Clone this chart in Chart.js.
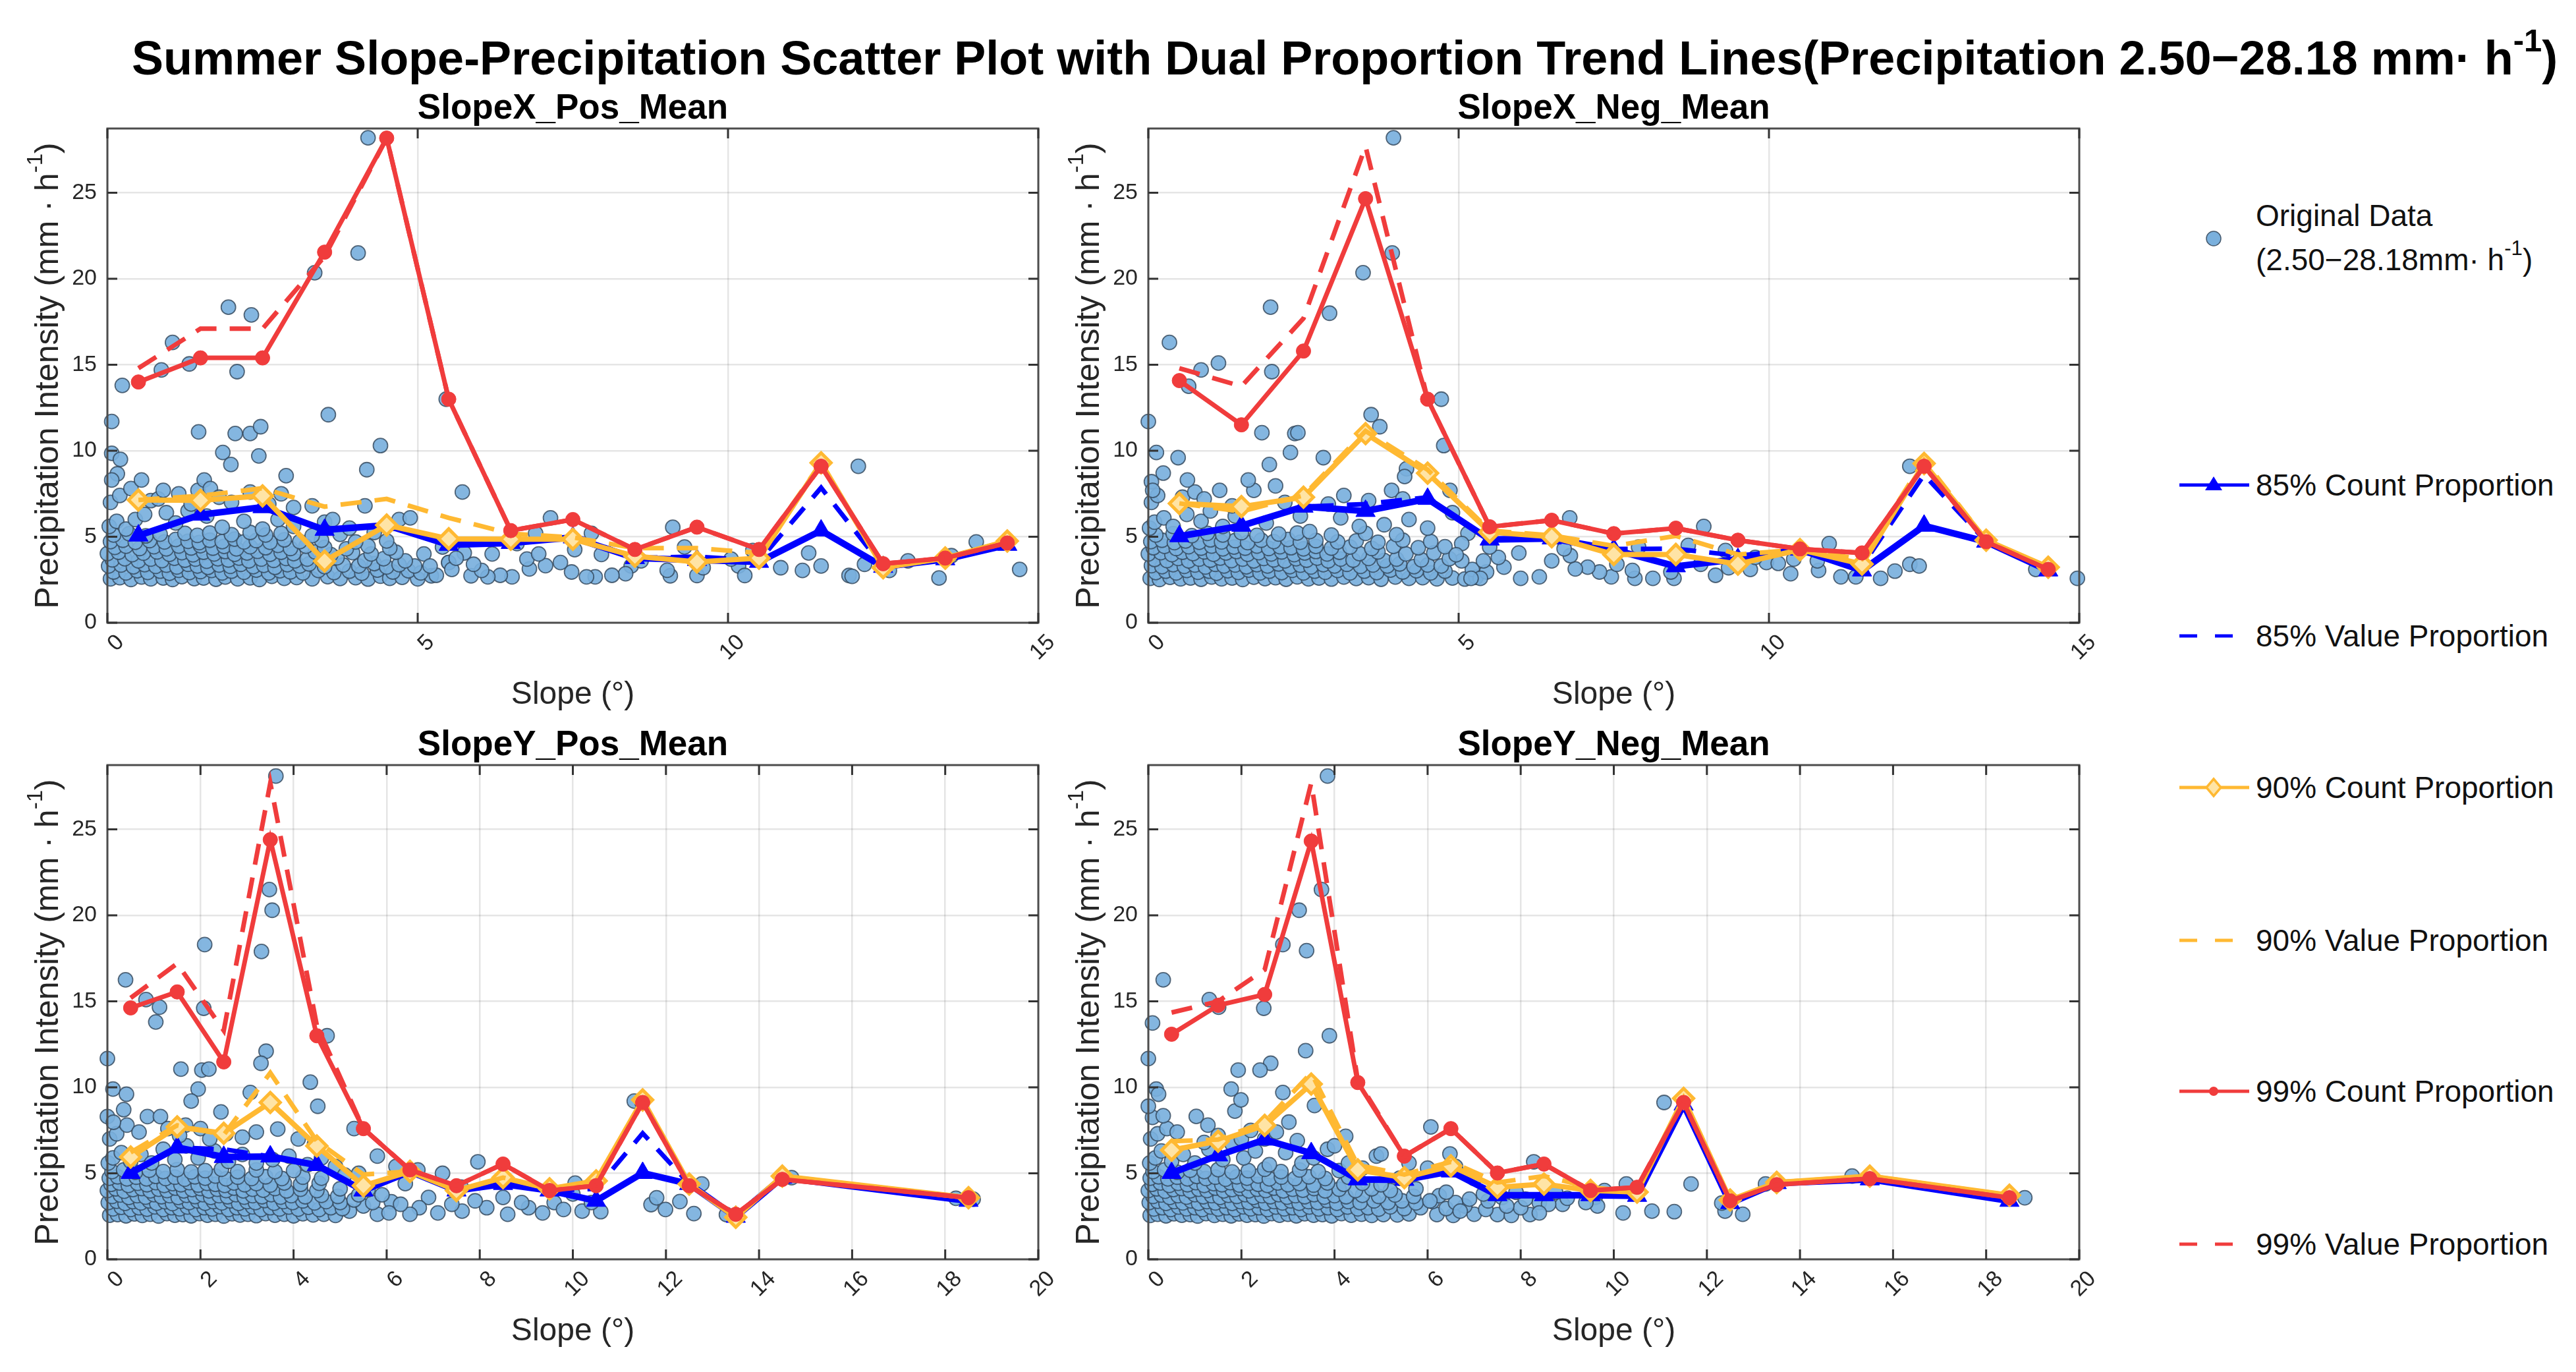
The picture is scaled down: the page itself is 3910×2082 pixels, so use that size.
<!DOCTYPE html>
<html>
<head>
<meta charset="utf-8">
<script src="https://cdn.jsdelivr.net/npm/chart.js@4.4.1/dist/chart.umd.min.js"></script>
<style>
  html, body { margin: 0; padding: 0; background: #fff; }
  body { width: 3910px; height: 2082px; position: relative; overflow: hidden; font-family: "Liberation Sans", Arial, sans-serif; color: #000; }
  canvas { position: absolute; }
  #title { position: absolute; left: 200px; top: 52px; font-size: 72px; line-height: 72px; font-weight: bold; white-space: nowrap; }
  sup { font-size: 0.68em; position: relative; top: -0.2em; vertical-align: super; line-height: 0; }
  .lg-sym { position: absolute; left: 3300px; width: 130px; height: 60px; }
  .lg-txt { position: absolute; left: 3424px; font-size: 46px; line-height: 60px; white-space: nowrap; color: #111; }
</style>
</head>
<body>
<div id="title">Summer Slope-Precipitation Scatter Plot with Dual Proportion Trend Lines(Precipitation 2.50−28.18 mm· h<sup>-1</sup>)</div>

<canvas id="p1"></canvas>
<canvas id="p2"></canvas>
<canvas id="p3"></canvas>
<canvas id="p4"></canvas>

<div id="legend"></div>

<script>
// ---- data ----
const panelTitles = ['SlopeX_Pos_Mean', 'SlopeX_Neg_Mean', 'SlopeY_Pos_Mean', 'SlopeY_Neg_Mean'];
const yMax = 28.74;

// bin centres
const binsX = [0.5, 1.5, 2.5, 3.5, 4.5, 5.5, 6.5, 7.5, 8.5, 9.5, 10.5, 11.5, 12.5, 13.5, 14.5];
const binsYPos = [0.5, 1.5, 2.5, 3.5, 4.5, 5.5, 6.5, 7.5, 8.5, 9.5, 10.5, 11.5, 12.5, 13.5, 14.5, 18.5];
const binsYNeg = [0.5, 1.5, 2.5, 3.5, 4.5, 5.5, 6.5, 7.5, 8.5, 9.5, 10.5, 11.5, 12.5, 13.5, 15.5, 18.5];

// SlopeX_Pos_Mean
const xPosCount85 = [5.07, 6.28, 6.72, 5.4, 5.67, 4.53, 4.64, 4.96, 3.76, 3.65, 3.54, 5.36, 3.25, 3.69, 4.53];
const xPosValue85 = [5.07, 6.28, 6.72, 5.4, 5.67, 4.53, 4.64, 5.1, 3.76, 3.85, 3.6, 7.85, 3.25, 3.69, 4.53];
const xPosCount90 = [7.14, 7.12, 7.38, 3.58, 5.68, 4.88, 4.86, 4.86, 3.87, 3.54, 3.76, 9.3, 3.2, 3.76, 4.75];
const xPosValue90 = [7.14, 7.38, 7.82, 6.75, 7.2, 6.1, 5.18, 4.96, 4.34, 4.34, 4.06, 9.3, 3.2, 3.76, 4.75];
const xPosCount99 = [14.0, 15.4, 15.4, 21.55, 28.18, 13.0, 5.36, 6.0, 4.26, 5.56, 4.26, 9.1, 3.43, 3.76, 4.64];
const xPosValue99 = [14.8, 17.1, 17.1, 21.3, 28.18, 13.0, 5.36, 6.0, 4.26, 5.56, 4.26, 9.1, 3.43, 3.76, 4.64];

// SlopeX_Neg_Mean
const xNegCount85 = [5.03, 5.64, 6.75, 6.5, 7.2, 4.84, 4.9, 4.25, 3.28, 3.7, 4.25, 3.04, 5.64, 4.71, 3.04];
const xNegValue85 = [5.03, 5.64, 6.75, 6.9, 7.3, 4.84, 4.9, 4.29, 4.3, 3.9, 4.25, 3.3, 8.6, 4.71, 3.04];
const xNegCount90 = [6.94, 6.75, 7.3, 11.0, 8.7, 5.27, 5.0, 3.97, 3.97, 3.41, 4.25, 3.41, 9.26, 4.8, 3.23];
const xNegValue90 = [6.94, 6.47, 7.4, 11.15, 8.9, 5.36, 5.08, 4.47, 5.05, 3.97, 4.25, 3.7, 9.44, 4.8, 3.23];
const xNegCount99 = [14.08, 11.51, 15.8, 24.66, 13.0, 5.58, 5.96, 5.18, 5.5, 4.8, 4.29, 4.06, 9.1, 4.71, 3.1];
const xNegValue99 = [14.8, 13.75, 17.7, 27.7, 13.0, 5.58, 5.96, 5.18, 5.5, 4.8, 4.29, 4.06, 9.1, 4.71, 3.1];

// SlopeY_Pos_Mean
const yPosCount85 = [5.02, 6.5, 5.95, 5.98, 5.48, 4.0, 5.11, 4.0, 4.38, 4.0, 3.4, 5.02, 4.38, 2.47, 4.75, 3.4];
const yPosValue85 = [5.02, 6.5, 6.4, 5.98, 5.48, 4.0, 5.11, 4.0, 4.38, 4.0, 4.1, 7.33, 4.38, 2.47, 4.75, 3.4];
const yPosCount90 = [5.95, 7.7, 7.33, 9.12, 6.59, 4.28, 5.11, 4.0, 4.75, 4.1, 4.56, 9.27, 4.38, 2.44, 4.84, 3.58];
const yPosValue90 = [6.22, 7.79, 7.24, 10.84, 6.87, 4.93, 5.11, 4.0, 4.75, 4.1, 4.56, 9.27, 4.38, 2.44, 4.84, 3.58];
const yPosCount99 = [14.62, 15.55, 11.48, 24.4, 13.0, 7.6, 5.2, 4.28, 5.54, 4.0, 4.28, 9.12, 4.28, 2.62, 4.65, 3.58];
const yPosValue99 = [15.2, 17.2, 13.3, 27.7, 13.6, 7.6, 5.2, 4.28, 5.54, 4.0, 4.28, 9.12, 4.28, 2.62, 4.65, 3.58];

// SlopeY_Neg_Mean
const yNegCount85 = [5.02, 6.04, 6.96, 6.17, 4.65, 4.62, 5.11, 3.73, 3.73, 3.73, 3.69, 9.0, 3.27, 4.43, 4.65, 3.4];
const yNegValue85 = [5.02, 6.04, 7.0, 6.17, 4.65, 4.62, 5.11, 3.73, 3.73, 3.73, 3.69, 9.0, 3.27, 4.43, 4.65, 3.4];
const yNegCount90 = [6.35, 6.87, 7.79, 10.19, 5.2, 4.75, 5.43, 4.19, 4.38, 4.0, 3.91, 9.36, 3.45, 4.47, 4.84, 3.73];
const yNegValue90 = [6.87, 6.96, 7.98, 10.84, 5.48, 4.93, 5.67, 4.47, 4.84, 4.19, 3.91, 9.36, 3.45, 4.47, 4.84, 3.73];
const yNegCount99 = [13.09, 14.77, 15.4, 24.32, 10.28, 6.0, 7.6, 5.02, 5.54, 4.0, 4.19, 9.12, 3.4, 4.34, 4.69, 3.58];
const yNegValue99 = [14.35, 15.0, 16.84, 27.7, 10.4, 6.0, 7.6, 5.02, 5.54, 4.0, 4.19, 9.12, 3.4, 4.34, 4.69, 3.58];

// original data points [slope, precipitation]
const xPosPoints = [
  [0.05,2.55],[0.2,2.62],[0.38,2.52],[0.55,2.66],[0.7,2.55],[0.9,2.6],[1.05,2.52],[1.2,2.68],[1.4,2.56],[1.55,2.6],[1.75,2.53],[1.9,2.66],[2.1,2.55],[2.3,2.61],[2.45,2.52],[2.65,2.7],[2.85,2.58],[3.05,2.63],[3.3,2.55],[3.55,2.68],[3.75,2.57],[4.0,2.62],[4.2,2.54],[4.4,2.71],[4.55,2.58],[4.75,2.64],[5.0,2.55],[5.22,2.73],
  [0.1,2.95],[0.3,2.9],[0.48,3.02],[0.65,2.93],[0.85,3.0],[1.0,2.88],[1.15,3.05],[1.32,2.92],[1.5,2.98],[1.68,3.04],[1.85,2.9],[2.0,3.0],[2.2,2.94],[2.4,3.06],[2.6,2.9],[2.78,3.02],[2.95,2.96],[3.15,2.9],[3.4,3.04],[3.65,2.92],[3.9,3.0],[4.1,2.88],[4.35,3.06],[4.6,2.95],[4.85,3.02],[5.05,2.9],
  [0.02,3.3],[0.22,3.36],[0.42,3.25],[0.6,3.38],[0.78,3.28],[0.95,3.35],[1.12,3.24],[1.3,3.4],[1.45,3.3],[1.62,3.22],[1.8,3.36],[1.98,3.28],[2.15,3.4],[2.35,3.26],[2.52,3.34],[2.7,3.22],[2.9,3.38],[3.1,3.3],[3.25,3.42],[3.5,3.26],[3.8,3.36],[4.05,3.3],[4.3,3.44],[4.5,3.24],[4.7,3.38],[4.95,3.3],[5.5,3.5],
  [0.08,3.66],[0.28,3.72],[0.5,3.6],[0.7,3.7],[0.88,3.62],[1.08,3.75],[1.25,3.64],[1.42,3.7],[1.6,3.58],[1.78,3.72],[1.95,3.65],[2.12,3.76],[2.28,3.6],[2.48,3.7],[2.68,3.63],[2.88,3.74],[3.02,3.6],[3.22,3.7],[3.45,3.65],[3.7,3.78],[4.15,3.62],[4.45,3.72],[4.8,3.6],
  [0.0,4.02],[0.18,4.1],[0.4,3.96],[0.58,4.05],[0.8,4.12],[1.0,3.98],[1.2,4.08],[1.38,3.95],[1.55,4.1],[1.72,4.0],[1.9,4.14],[2.05,3.98],[2.25,4.06],[2.42,4.15],[2.62,3.98],[2.8,4.1],[3.0,4.02],[3.35,4.12],[3.6,3.96],[3.95,4.08],[4.25,4.0],[4.65,4.1],[5.1,4.0],
  [0.12,4.38],[0.3,4.45],[0.52,4.32],[0.75,4.42],[0.95,4.3],[1.15,4.46],[1.35,4.35],[1.5,4.48],[1.7,4.34],[1.88,4.44],[2.08,4.3],[2.3,4.42],[2.55,4.36],[2.75,4.5],[2.95,4.32],[3.2,4.45],[3.5,4.38],[3.85,4.3],[4.2,4.46],[4.55,4.34],
  [0.05,4.72],[0.25,4.8],[0.45,4.68],[0.68,4.78],[0.92,4.7],[1.1,4.84],[1.3,4.74],[1.48,4.66],[1.65,4.8],[1.85,4.72],[2.05,4.86],[2.2,4.7],[2.4,4.78],[2.62,4.68],[2.85,4.82],[3.1,4.72],[3.45,4.8],[4.0,4.7],[4.5,4.76],
  [0.1,5.1],[0.35,5.18],[0.62,5.05],[0.85,5.15],[1.25,5.2],[1.45,5.08],[1.65,5.22],[2.0,5.12],[2.3,5.25],[2.55,5.1],[2.8,5.2],[3.3,5.06],[3.75,5.14],
  [0.03,5.6],[0.15,5.9],[0.3,5.45],[0.45,6.0],[0.6,6.3],[0.95,6.4],[1.1,5.8],[1.3,6.5],[1.6,6.2],[1.85,5.55],[2.2,5.9],[2.5,5.45],[2.75,6.0],[3.0,5.6],[3.5,5.85],[3.9,5.5],[4.3,5.25],[4.7,6.0],[4.88,6.1],
  [0.05,7.0],[0.2,7.4],[0.38,7.8],[0.55,8.3],[0.7,7.1],[0.82,7.2],[0.9,7.7],[1.15,7.5],[1.35,6.9],[1.46,7.7],[1.56,8.3],[1.66,7.8],[1.8,7.3],[2.0,7.0],[2.3,7.6],[2.6,6.9],[2.8,7.5],[3.0,6.7],[3.3,6.8],[3.63,6.0],[4.15,6.8],[5.72,7.6],
  [4.2,28.2],[4.04,21.5],[3.34,20.35],[1.95,18.35],[2.32,17.9],[1.05,16.3],[1.32,15.05],[0.87,14.7],[2.09,14.6],[0.24,13.8],[5.46,13.0],[3.56,12.1],[0.07,11.7],[1.47,11.1],[2.06,11.0],[2.3,11.0],[2.47,11.4],[4.4,10.3],[1.86,9.9],[0.07,9.85],[0.21,9.5],[2.44,9.7],[1.99,9.2],[4.18,8.9],[12.1,9.1],[2.88,8.55],[0.16,8.66],[0.07,8.3],
  [7.14,6.1],[9.11,5.55],[7.8,5.2],[6.9,5.2],[14.0,4.7],[14.7,3.1],[13.4,2.6],[11.3,4.06],[11.2,3.04],[11.95,2.75],[12.0,2.7],[12.2,3.4],[12.6,3.04],[10.85,3.2],[10.17,3.3],[10.27,2.75],[10.05,3.7],[9.07,2.73],[9.02,3.05],[9.5,2.75],[9.6,3.2],[8.44,3.3],[8.35,2.85],[8.13,2.76],[7.86,2.67],[7.72,2.67],[7.96,3.97],[7.48,2.95],[7.53,4.25],[7.06,3.32],[6.8,3.13],[6.76,3.7],[6.52,2.67],[6.33,2.76],[6.13,2.67],[5.86,2.73],[6.03,3.04],[5.75,4.06],[5.5,3.5],[5.55,3.1],[5.3,2.76],[5.2,3.3],[5.4,4.4],[5.62,3.75],[5.9,3.4],[6.2,4.0],[6.6,4.6],[6.95,4.0],[7.3,3.5],[8.6,3.6],[9.3,4.4],[10.4,4.2],[11.5,3.3],[12.9,3.6],[13.6,3.9]
];

const xNegPoints = [
  [0.03,2.58],[0.18,2.52],[0.35,2.64],[0.52,2.55],[0.68,2.6],[0.85,2.53],[1.02,2.66],[1.18,2.55],[1.35,2.6],[1.52,2.52],[1.7,2.65],[1.88,2.56],[2.05,2.62],[2.22,2.53],[2.4,2.67],[2.58,2.55],[2.75,2.6],[2.95,2.54],[3.15,2.66],[3.35,2.57],[3.55,2.62],[3.75,2.53],[3.98,2.66],[4.2,2.58],[4.42,2.62],[4.65,2.55],[4.9,2.6],[5.1,2.54],[5.28,2.64],
  [0.12,2.92],[0.28,3.0],[0.45,2.9],[0.62,3.04],[0.8,2.94],[0.98,3.0],[1.1,2.88],[1.28,3.02],[1.45,2.93],[1.62,3.06],[1.8,2.9],[1.95,3.0],[2.15,2.92],[2.32,3.05],[2.5,2.9],[2.68,3.0],[2.85,2.94],[3.05,3.04],[3.25,2.9],[3.48,3.0],[3.68,2.92],[3.9,3.06],[4.1,2.95],[4.32,3.02],[4.55,2.9],[4.78,3.0],[5.22,3.1],[5.45,2.95],
  [0.05,3.32],[0.22,3.26],[0.4,3.38],[0.58,3.28],[0.75,3.36],[0.92,3.24],[1.08,3.4],[1.22,3.3],[1.4,3.36],[1.58,3.25],[1.75,3.38],[1.92,3.3],[2.1,3.42],[2.28,3.26],[2.45,3.35],[2.62,3.24],[2.82,3.38],[3.0,3.3],[3.2,3.4],[3.42,3.28],[3.62,3.36],[3.85,3.3],[4.05,3.42],[4.28,3.26],[4.5,3.36],[4.72,3.3],[5.05,3.6],
  [0.1,3.68],[0.3,3.62],[0.48,3.74],[0.65,3.6],[0.82,3.7],[1.0,3.64],[1.16,3.76],[1.34,3.62],[1.52,3.7],[1.7,3.6],[1.86,3.74],[2.02,3.66],[2.2,3.6],[2.38,3.72],[2.55,3.64],[2.72,3.76],[2.9,3.6],[3.1,3.7],[3.3,3.64],[3.55,3.74],[3.8,3.62],[4.0,3.7],[4.4,3.66],[4.85,3.72],
  [0.0,4.0],[0.2,4.08],[0.38,3.96],[0.55,4.1],[0.72,4.02],[0.9,4.12],[1.05,3.98],[1.25,4.06],[1.42,4.14],[1.6,3.98],[1.78,4.08],[1.98,4.0],[2.15,4.12],[2.35,3.96],[2.52,4.06],[2.7,4.14],[2.88,4.0],[3.08,4.1],[3.4,4.02],[3.7,4.12],[4.15,4.0],[4.6,4.06],
  [0.08,4.36],[0.26,4.44],[0.45,4.32],[0.65,4.42],[0.85,4.34],[1.02,4.46],[1.2,4.3],[1.38,4.4],[1.56,4.34],[1.75,4.46],[1.94,4.32],[2.12,4.42],[2.3,4.36],[2.5,4.3],[2.7,4.44],[2.95,4.34],[3.25,4.4],[3.6,4.32],[3.95,4.44],[4.35,4.36],[4.78,4.42],
  [0.04,4.72],[0.22,4.8],[0.42,4.66],[0.6,4.76],[0.82,4.68],[1.0,4.82],[1.18,4.7],[1.4,4.78],[1.6,4.66],[1.82,4.8],[2.02,4.72],[2.25,4.84],[2.45,4.68],[2.7,4.78],[3.05,4.7],[3.35,4.76],[3.7,4.68],[4.1,4.8],[4.55,4.72],
  [0.12,5.1],[0.4,5.18],[0.7,5.06],[0.95,5.2],[1.2,5.1],[1.5,5.24],[1.75,5.08],[2.1,5.16],[2.4,5.22],[2.95,5.1],[3.5,5.2],[4.0,5.12],
  [0.02,5.5],[0.1,5.85],[0.25,6.1],[0.4,5.6],[0.62,6.3],[0.85,5.9],[1.0,6.5],[1.2,5.6],[1.4,6.2],[1.9,5.8],[2.45,6.2],[2.6,5.3],[3.1,6.1],[3.4,5.6],[3.8,5.7],[4.2,6.0],[4.5,5.5],[4.9,6.4],[5.15,5.2],
  [0.05,7.0],[0.15,7.4],[0.55,7.3],[0.75,7.6],[0.9,7.2],[1.15,7.7],[1.7,7.7],[1.35,6.8],[2.2,7.0],[2.9,6.9],[3.15,7.4],[3.55,7.1],[4.86,7.7],[3.92,7.7],[2.05,7.96],[4.1,7.2],
  [3.95,28.2],[3.93,21.5],[3.46,20.35],[1.97,18.35],[2.92,18.0],[0.34,16.3],[1.13,15.1],[0.85,14.7],[1.99,14.6],[0.65,13.75],[4.72,13.0],[3.59,12.1],[0.0,11.7],[3.73,11.4],[1.83,11.05],[2.36,11.0],[2.41,11.05],[4.76,10.3],[2.29,9.9],[0.13,9.9],[0.48,9.6],[2.82,9.6],[1.95,9.2],[4.16,8.95],[4.13,8.5],[12.27,9.1],[0.24,8.7],[1.61,8.3],[0.05,8.2],[0.07,7.7],[0.63,8.3],
  [6.79,6.1],[8.95,5.6],[10.97,4.6],[12.27,3.4],[12.42,3.3],[14.3,3.1],[14.97,2.58],[11.8,2.58],[12.03,3.0],[11.16,2.67],[11.4,2.67],[10.8,3.04],[10.78,3.6],[10.35,2.85],[10.4,3.7],[9.96,3.5],[10.15,3.45],[9.7,3.1],[9.78,3.8],[9.14,2.76],[9.35,3.2],[8.9,3.4],[8.47,2.58],[8.42,2.95],[8.13,2.58],[7.84,2.58],[7.8,3.04],[7.46,2.67],[7.27,2.95],[7.08,3.23],[7.55,3.4],[6.88,3.13],[6.8,3.9],[6.7,4.3],[6.5,3.6],[6.3,2.67],[6.0,2.58],[5.97,4.06],[5.73,3.23],[5.64,3.8],[5.5,4.4],[5.4,3.6],[5.35,2.58],[5.2,2.58],[5.05,4.6],[4.96,3.95],[7.9,4.4],[8.7,4.5],[9.3,4.2]
];

const yPosPoints = [
  [0.05,2.56],[0.22,2.6],[0.4,2.53],[0.58,2.64],[0.75,2.55],[0.92,2.62],[1.1,2.52],[1.28,2.66],[1.45,2.56],[1.62,2.6],[1.8,2.53],[1.98,2.66],[2.15,2.56],[2.32,2.62],[2.5,2.52],[2.68,2.65],[2.85,2.57],[3.02,2.62],[3.2,2.54],[3.4,2.66],[3.6,2.56],[3.8,2.62],[4.0,2.53],[4.2,2.65],[4.42,2.58],[4.65,2.62],[4.9,2.55],[5.2,2.8],[5.8,2.62],
  [0.12,2.94],[0.3,3.02],[0.5,2.9],[0.68,3.0],[0.85,2.92],[1.02,3.05],[1.2,2.9],[1.38,3.0],[1.55,2.94],[1.72,3.04],[1.9,2.9],[2.08,3.0],[2.25,2.93],[2.42,3.06],[2.6,2.9],[2.78,3.0],[2.95,2.94],[3.12,3.05],[3.3,2.9],[3.5,3.0],[3.7,2.93],[3.9,3.04],[4.1,2.92],[4.32,3.02],[4.55,2.9],[4.8,3.0],[5.05,2.95],[5.5,3.1],
  [0.02,3.3],[0.2,3.38],[0.38,3.25],[0.55,3.36],[0.72,3.28],[0.9,3.4],[1.06,3.26],[1.24,3.35],[1.4,3.24],[1.58,3.38],[1.76,3.3],[1.94,3.4],[2.1,3.26],[2.28,3.36],[2.46,3.28],[2.64,3.4],[2.82,3.25],[3.0,3.36],[3.18,3.3],[3.38,3.42],[3.58,3.26],[3.78,3.36],[3.98,3.3],[4.2,3.4],[4.45,3.28],[4.7,3.36],[5.0,3.3],[5.3,3.45],[5.7,3.3],[6.1,3.35],
  [0.1,3.66],[0.28,3.74],[0.46,3.6],[0.64,3.7],[0.82,3.62],[1.0,3.76],[1.16,3.64],[1.34,3.7],[1.52,3.6],[1.7,3.72],[1.88,3.65],[2.05,3.76],[2.22,3.6],[2.4,3.7],[2.58,3.64],[2.76,3.76],[2.94,3.62],[3.12,3.7],[3.32,3.64],[3.52,3.76],[3.72,3.62],[3.95,3.7],[4.25,3.64],[4.6,3.72],[4.95,3.66],[5.4,3.75],
  [0.0,4.0],[0.18,4.1],[0.36,3.96],[0.55,4.06],[0.74,4.12],[0.92,3.98],[1.1,4.08],[1.28,4.0],[1.46,4.14],[1.64,3.98],[1.82,4.06],[2.0,4.12],[2.18,3.98],[2.36,4.08],[2.55,4.0],[2.72,4.14],[2.92,3.98],[3.12,4.08],[3.35,4.02],[3.6,4.12],[3.85,3.98],[4.15,4.08],[4.5,4.0],[5.0,4.1],[5.6,4.05],
  [0.08,4.36],[0.26,4.44],[0.45,4.3],[0.65,4.42],[0.85,4.34],[1.04,4.46],[1.22,4.3],[1.4,4.4],[1.58,4.34],[1.76,4.46],[1.95,4.32],[2.14,4.42],[2.32,4.36],[2.52,4.3],[2.72,4.44],[2.95,4.34],[3.2,4.4],[3.5,4.32],[3.8,4.44],[4.15,4.36],[4.55,4.42],
  [0.04,4.72],[0.22,4.8],[0.42,4.68],[0.62,4.78],[0.84,4.68],[1.04,4.82],[1.25,4.7],[1.45,4.78],[1.66,4.66],[1.88,4.8],[2.1,4.72],[2.32,4.84],[2.55,4.68],[2.8,4.78],[3.1,4.7],[3.4,4.8],[3.75,4.7],[4.2,4.78],[4.6,4.72],
  [0.1,5.1],[0.35,5.2],[0.6,5.06],[0.9,5.18],[1.2,5.1],[1.5,5.22],[1.8,5.08],[2.1,5.16],[2.45,5.24],[2.8,5.1],[3.2,5.2],[3.6,5.1],[4.0,5.16],
  [0.02,5.6],[0.12,5.9],[0.3,6.2],[0.5,5.7],[0.72,6.1],[0.95,5.6],[1.2,6.4],[1.45,5.8],[1.7,6.6],[1.95,5.9],[2.3,6.3],[2.6,5.7],[2.9,6.1],[3.2,5.6],[3.55,5.8],[3.9,6.0],[4.3,5.5],[4.6,5.9],[4.9,5.4],[5.1,4.9],[5.4,5.0],[5.8,6.0],[6.2,5.4],[6.67,5.2],[7.2,5.0],
  [0.05,7.0],[0.2,7.3],[0.42,7.8],[0.68,7.4],[0.86,8.3],[1.14,8.3],[1.3,7.6],[1.68,7.8],[1.55,7.2],[2.0,7.6],[2.2,7.0],[2.55,7.3],[2.9,7.1],[3.2,7.4],[3.66,7.57],[4.1,7.0],[4.45,6.7],[5.3,7.6],
  [3.62,28.1],[3.48,21.5],[3.54,20.3],[2.09,18.3],[3.31,17.9],[0.39,16.25],[0.83,15.1],[1.12,14.66],[2.07,14.6],[1.04,13.8],[4.72,13.0],[3.41,12.1],[0.0,11.67],[3.3,11.4],[1.58,11.06],[2.03,11.0],[2.18,11.06],[4.36,10.3],[1.95,9.9],[0.12,9.9],[0.41,9.6],[3.07,9.7],[1.8,9.2],[4.52,8.9],[11.32,9.2],[11.49,9.1],[0.35,8.7],[2.44,8.57],[0.0,8.3],[0.13,7.97],
  [7.96,5.67],[10.05,4.43],[12.77,4.38],[14.7,4.75],[18.23,3.55],[18.6,3.5],[11.68,3.18],[11.8,3.58],[11.99,2.9],[12.3,3.36],[12.6,2.66],[13.3,2.6],[10.6,2.77],[10.2,2.8],[10.4,3.3],[9.35,2.7],[9.05,3.0],[8.9,3.3],[8.6,2.62],[8.5,3.6],[8.15,3.0],[7.9,3.4],[7.62,2.8],[7.4,3.2],[7.1,2.7],[6.9,3.6],[6.7,3.0],[6.5,2.62],[6.3,3.2],[6.05,2.7],[5.9,3.75],[7.6,4.2],[9.6,3.3],[10.0,3.8],[9.8,2.9],[6.4,4.4]
];

const yNegPoints = [
  [0.04,2.55],[0.2,2.62],[0.38,2.53],[0.55,2.65],[0.72,2.56],[0.9,2.6],[1.06,2.52],[1.24,2.66],[1.42,2.55],[1.6,2.62],[1.78,2.53],[1.95,2.64],[2.12,2.56],[2.3,2.6],[2.48,2.52],[2.65,2.66],[2.82,2.56],[3.0,2.62],[3.18,2.53],[3.36,2.65],[3.55,2.56],[3.74,2.6],[3.94,2.53],[4.15,2.66],[4.36,2.56],[4.58,2.62],[4.8,2.55],[5.05,2.6],[5.35,2.58],[5.6,2.64],[6.2,2.6],[6.55,2.55],[7.0,2.62],[7.5,2.6],[7.8,2.55],[8.2,2.6],
  [0.12,2.93],[0.3,3.0],[0.48,2.9],[0.65,3.04],[0.82,2.94],[1.0,3.0],[1.16,2.9],[1.34,3.04],[1.5,2.93],[1.68,3.0],[1.86,2.9],[2.04,3.05],[2.2,2.94],[2.38,3.0],[2.56,2.9],[2.74,3.04],[2.92,2.94],[3.1,3.0],[3.28,2.9],[3.46,3.04],[3.66,2.93],[3.86,3.0],[4.06,2.9],[4.28,3.04],[4.5,2.94],[4.72,3.0],[4.95,2.92],[5.2,3.05],[5.5,2.95],[5.85,3.0],[6.4,2.95],[6.8,3.1],[7.25,2.9],[8.0,3.0],
  [0.02,3.3],[0.2,3.38],[0.38,3.25],[0.56,3.36],[0.74,3.28],[0.92,3.4],[1.08,3.26],[1.26,3.36],[1.44,3.28],[1.62,3.4],[1.8,3.25],[1.98,3.36],[2.16,3.3],[2.34,3.42],[2.52,3.26],[2.7,3.36],[2.88,3.28],[3.06,3.4],[3.24,3.26],[3.44,3.36],[3.64,3.3],[3.84,3.42],[4.05,3.26],[4.3,3.36],[4.55,3.3],[4.85,3.4],[5.15,3.3],[5.45,3.4],[5.75,3.28],[6.1,3.36],[6.6,3.3],[7.3,3.4],[8.4,3.3],[8.9,3.2],
  [0.1,3.66],[0.28,3.74],[0.46,3.6],[0.64,3.7],[0.82,3.62],[1.0,3.76],[1.18,3.64],[1.36,3.7],[1.54,3.6],[1.72,3.72],[1.9,3.66],[2.08,3.76],[2.26,3.6],[2.44,3.7],[2.62,3.64],[2.8,3.76],[2.98,3.62],[3.16,3.7],[3.36,3.64],[3.56,3.76],[3.78,3.62],[4.0,3.7],[4.25,3.64],[4.6,3.72],[4.95,3.66],[5.3,3.74],[5.7,3.66],[6.25,3.7],[7.6,3.6],
  [0.0,4.0],[0.18,4.1],[0.36,3.96],[0.54,4.06],[0.72,4.12],[0.9,3.98],[1.08,4.08],[1.26,4.0],[1.44,4.14],[1.62,3.98],[1.8,4.06],[1.98,4.12],[2.16,3.98],[2.34,4.08],[2.52,4.0],[2.7,4.14],[2.9,3.98],[3.1,4.08],[3.32,4.02],[3.56,4.12],[3.8,3.98],[4.1,4.08],[4.45,4.0],[4.8,4.1],[5.2,4.0],[5.75,4.1],
  [0.08,4.36],[0.26,4.44],[0.45,4.3],[0.64,4.42],[0.84,4.34],[1.02,4.46],[1.2,4.3],[1.4,4.4],[1.58,4.34],[1.76,4.46],[1.96,4.32],[2.16,4.42],[2.36,4.36],[2.56,4.3],[2.78,4.44],[3.0,4.34],[3.25,4.4],[3.55,4.32],[3.85,4.44],[4.2,4.36],[4.6,4.42],[5.0,4.34],
  [0.04,4.72],[0.22,4.8],[0.42,4.68],[0.62,4.78],[0.84,4.68],[1.04,4.82],[1.24,4.7],[1.44,4.78],[1.66,4.66],[1.9,4.8],[2.12,4.72],[2.36,4.84],[2.6,4.68],[2.86,4.78],[3.15,4.7],[3.45,4.8],[3.8,4.7],[4.3,4.78],[5.4,4.72],
  [0.1,5.1],[0.35,5.2],[0.62,5.06],[0.9,5.18],[1.2,5.1],[1.5,5.22],[1.8,5.08],[2.15,5.16],[2.5,5.24],[2.85,5.1],[3.25,5.2],[3.65,5.1],[4.1,5.16],[4.6,5.3],
  [0.03,5.6],[0.15,5.9],[0.28,6.3],[0.5,5.7],[0.75,6.1],[1.0,5.6],[1.3,6.4],[1.6,5.8],[1.8,6.7],[2.05,5.9],[2.3,6.3],[2.6,5.5],[2.95,6.2],[3.3,5.6],[3.55,5.9],[3.85,6.4],[4.3,5.6],[4.9,6.0],[5.6,5.6],[6.0,5.3],[6.6,5.4],[7.0,4.7],
  [0.05,7.0],[0.2,7.3],[0.4,7.6],[0.62,7.4],[1.03,8.31],[1.28,7.8],[1.5,7.2],[1.2,6.8],[2.0,7.0],[2.2,7.5],[2.5,7.0],[2.75,7.4],[3.02,7.98],[3.2,6.9],[4.24,7.15],[4.0,6.6],[6.07,7.7],[5.0,6.13],[6.48,6.13],[0.09,8.25],[0.32,8.35],[0.0,8.9],[1.86,8.62],
  [3.85,28.1],[3.72,21.5],[3.24,20.3],[2.89,18.3],[3.4,17.95],[0.32,16.25],[1.31,15.1],[1.51,14.66],[2.48,14.6],[0.09,13.74],[3.89,13.0],[3.38,12.13],[0.0,11.67],[2.63,11.4],[1.93,11.0],[2.4,11.0],[0.17,9.9],[1.78,9.9],[2.89,9.7],[0.22,9.6],[1.99,9.27],[3.57,8.94],[11.08,9.12],
  [8.28,5.67],[10.27,4.38],[11.66,4.38],[13.26,4.38],[15.12,4.84],[18.83,3.58],[12.39,2.8],[12.32,3.27],[12.77,2.62],[11.3,2.77],[10.82,2.8],[10.2,2.7],[9.6,3.6],[9.8,4.0],[9.65,3.1],[9.4,3.3],[9.0,3.55],[8.75,3.9],[8.6,3.2],[8.4,2.7],[8.1,3.5],[7.9,3.9],[7.7,3.1],[7.2,3.8],[6.9,3.5],[6.7,2.8],[6.4,3.9],[6.05,3.4]
];

const legendLabels = ['85% Count Proportion', '85% Value Proportion', '90% Count Proportion',
                      '90% Value Proportion', '99% Count Proportion', '99% Value Proportion'];

// ---- styles ----
const BLUE = '#0000ff', GOLD = 'rgb(255,185,50)', RED = 'rgb(240,60,60)';
const FONT = '"Liberation Sans", Arial, Helvetica, sans-serif';
const DASH = [32, 20];
const lineStyles = [
  { color: BLUE, width: 10, dash: [], point: 'triangle', r: 17, face: BLUE, pbw: 1, order: 6 },
  { color: BLUE, width: 7, dash: DASH, point: false, order: 5 },
  { color: GOLD, width: 8, dash: [], point: 'rectRot', r: 15, face: 'rgb(255,228,165)', pbw: 5, order: 4 },
  { color: GOLD, width: 7, dash: DASH, point: false, order: 3 },
  { color: RED, width: 7, dash: [], point: 'circle', r: 11, face: RED, pbw: 1, order: 2 },
  { color: RED, width: 7, dash: DASH, point: false, order: 1 }
];

// box, inward ticks, titles and axis labels
const panelDecor = {
  id: 'panelDecor',
  afterDraw(chart, args, opts) {
    const { ctx, chartArea: a } = chart;
    const xs = chart.scales.x, ys = chart.scales.y;
    ctx.save();
    ctx.strokeStyle = '#4d4d4d';
    ctx.lineWidth = 3;
    ctx.strokeRect(a.left, a.top, a.right - a.left, a.bottom - a.top);
    ctx.strokeStyle = '#333';
    ctx.lineWidth = 3;
    ctx.beginPath();
    xs.ticks.forEach(t => {
      const px = xs.getPixelForValue(t.value);
      ctx.moveTo(px, a.bottom); ctx.lineTo(px, a.bottom - 15);
      ctx.moveTo(px, a.top); ctx.lineTo(px, a.top + 15);
    });
    ys.ticks.forEach(t => {
      const py = ys.getPixelForValue(t.value);
      ctx.moveTo(a.left, py); ctx.lineTo(a.left + 15, py);
      ctx.moveTo(a.right, py); ctx.lineTo(a.right - 15, py);
    });
    ctx.stroke();

    const cx = (a.left + a.right) / 2, cy = (a.top + a.bottom) / 2;
    ctx.fillStyle = '#000';
    ctx.textAlign = 'center';
    ctx.textBaseline = 'alphabetic';
    ctx.font = 'bold 53px ' + FONT;
    ctx.fillText(opts.title, cx, a.top - 15);

    ctx.fillStyle = '#262626';
    ctx.textBaseline = 'middle';
    ctx.font = '48px ' + FONT;
    ctx.fillText('Slope (°)', cx, a.bottom + 110);

    // y label with superscript
    ctx.translate(74, cy);
    ctx.rotate(-Math.PI / 2);
    const main = 'Precipitation Intensity (mm · h';
    ctx.font = '50px ' + FONT;
    const w1 = ctx.measureText(main).width;
    const w3 = ctx.measureText(')').width;
    ctx.font = '33px ' + FONT;
    const w2 = ctx.measureText('-1').width;
    let x = -(w1 + w2 + w3) / 2;
    ctx.textAlign = 'left';
    ctx.font = '50px ' + FONT;
    ctx.fillText(main, x, 0);
    x += w1;
    ctx.font = '33px ' + FONT;
    ctx.fillText('-1', x, -19);
    x += w2;
    ctx.font = '50px ' + FONT;
    ctx.fillText(')', x, 0);
    ctx.restore();
  }
};

function makePanel(id, left, top, title, xMax, xStep, points, bins, series) {
  const W = 1640, H = 1000;
  const cv = document.getElementById(id);
  cv.width = W; cv.height = H;
  cv.style.left = left + 'px';
  cv.style.top = top + 'px';

  const datasets = [{
    type: 'scatter',
    data: points.map(p => ({ x: p[0], y: p[1] })),
    pointRadius: 11,
    pointBackgroundColor: 'rgba(122,176,221,0.92)',
    pointBorderColor: 'rgba(50,70,90,0.8)',
    pointBorderWidth: 1.8,
    order: 10,
    clip: 14
  }];
  series.forEach((vals, i) => {
    const s = lineStyles[i];
    datasets.push({
      type: 'line',
      label: legendLabels[i],
      data: bins.map((b, j) => ({ x: b, y: vals[j] })),
      borderColor: s.color,
      borderWidth: s.width,
      borderDash: s.dash,
      tension: 0,
      fill: false,
      pointStyle: s.point || 'circle',
      pointRadius: s.point ? s.r : 0,
      pointBackgroundColor: s.face || s.color,
      pointBorderColor: s.color,
      pointBorderWidth: s.pbw || 1,
      order: s.order,
      clip: 20
    });
  });

  const tickFont = { family: FONT, size: 34 };
  new Chart(cv.getContext('2d'), {
    data: { datasets },
    options: {
      responsive: false,
      animation: false,
      devicePixelRatio: 1,
      layout: { padding: { top: 95, right: 64, left: 0, bottom: 0 } },
      scales: {
        x: {
          type: 'linear', min: 0, max: xMax,
          ticks: { stepSize: xStep, includeBounds: false, autoSkip: false, minRotation: 45, maxRotation: 45,
                   labelOffset: 20, font: tickFont, color: '#262626', padding: 10 },
          grid: { color: 'rgba(0,0,0,0.1)', lineWidth: 2.5, drawTicks: false },
          border: { display: false },
          afterFit(s) { s.height = 155; s.paddingLeft = 0; s.paddingRight = 0; }
        },
        y: {
          type: 'linear', min: 0, max: yMax,
          ticks: { stepSize: 5, includeBounds: false, font: tickFont, color: '#262626', padding: 16 },
          grid: { color: 'rgba(0,0,0,0.1)', lineWidth: 2.5, drawTicks: false },
          border: { display: false },
          afterFit(s) { s.width = 163; s.paddingTop = 0; s.paddingBottom = 0; }
        }
      },
      plugins: {
        legend: { display: false },
        tooltip: { enabled: false },
        panelDecor: { title }
      }
    },
    plugins: [panelDecor]
  });
}

makePanel('p1', 0, 100, panelTitles[0], 15, 5, xPosPoints, binsX,
  [xPosCount85, xPosValue85, xPosCount90, xPosValue90, xPosCount99, xPosValue99]);
makePanel('p2', 1580, 100, panelTitles[1], 15, 5, xNegPoints, binsX,
  [xNegCount85, xNegValue85, xNegCount90, xNegValue90, xNegCount99, xNegValue99]);
makePanel('p3', 0, 1066, panelTitles[2], 20, 2, yPosPoints, binsYPos,
  [yPosCount85, yPosValue85, yPosCount90, yPosValue90, yPosCount99, yPosValue99]);
makePanel('p4', 1580, 1066, panelTitles[3], 20, 2, yNegPoints, binsYNeg,
  [yNegCount85, yNegValue85, yNegCount90, yNegValue90, yNegCount99, yNegValue99]);

// ---- legend (html) ----
const legend = document.getElementById('legend');
const rowY = [736, 965, 1195, 1427, 1656, 1888];
let html = '<svg class="lg-sym" style="top:332px" viewBox="0 0 130 60"><circle cx="60" cy="30" r="11" fill="rgb(122,176,221)" stroke="rgb(70,90,110)" stroke-width="1.5"/></svg>' +
  '<div class="lg-txt" style="top:294px; line-height:67px">Original Data<br>(2.50−28.18mm· h<sup>-1</sup>)</div>';
legendLabels.forEach((lab, i) => {
  const s = lineStyles[i];
  let sym = '';
  if (s.dash.length) {
    sym = `<line x1="8" y1="30" x2="35" y2="30" stroke="${s.color}" stroke-width="5"/>` +
          `<line x1="62" y1="30" x2="89" y2="30" stroke="${s.color}" stroke-width="5"/>`;
  } else {
    sym = `<line x1="8" y1="30" x2="114" y2="30" stroke="${s.color}" stroke-width="5"/>`;
    if (s.point === 'triangle') sym += `<polygon points="60,17 73,38 47,38" fill="${s.color}"/>`;
    if (s.point === 'rectRot') sym += `<polygon points="60,17 71,30 60,43 49,30" fill="${s.face}" stroke="${s.color}" stroke-width="3.5"/>`;
    if (s.point === 'circle') sym += `<circle cx="60" cy="30" r="7" fill="${s.color}"/>`;
  }
  html += `<svg class="lg-sym" style="top:${rowY[i] - 30}px" viewBox="0 0 130 60">${sym}</svg>`;
  html += `<div class="lg-txt" style="top:${rowY[i] - 30}px">${lab}</div>`;
});
legend.innerHTML = html;
</script>
</body>
</html>
